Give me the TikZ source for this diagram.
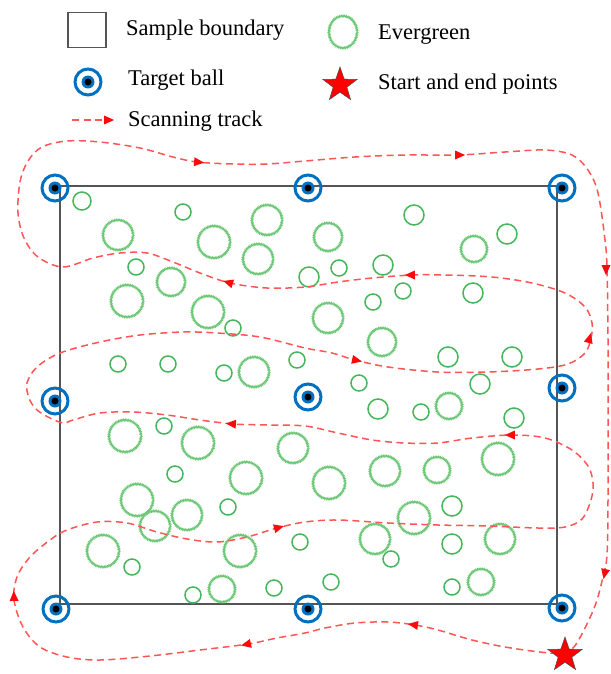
\documentclass[tikz,border=0pt]{standalone}
\usepackage{fontspec}
\setmainfont{Liberation Serif}
\usetikzlibrary{shapes.geometric,decorations.pathmorphing}
\definecolor{ballblue}{RGB}{0,112,192}
\definecolor{boundgray}{RGB}{85,85,85}
\definecolor{evsolid}{RGB}{70,182,92}
\definecolor{evfuzzy}{RGB}{110,200,120}
\definecolor{trackred}{RGB}{255,85,85}
\definecolor{tipred}{RGB}{250,10,10}
\begin{document}
\begin{tikzpicture}[x=1pt,y=-1pt,
  ball/.style={circle, draw=ballblue, line width=3pt, minimum size=26pt, inner sep=0pt,
    path picture={\fill[ballblue] (path picture bounding box.center) circle (6.5pt);
                  \fill[black] (path picture bounding box.center) circle (3.5pt);}},
  evs/.style={draw=evsolid, line width=1.5pt},
  evf/.style={draw=evfuzzy, line width=1.1pt, decorate,
    decoration={zigzag, segment length=1.6pt, amplitude=0.7pt}},
  track/.style={draw=trackred, line width=1.5pt, dash pattern=on 7pt off 4.5pt},
  tip/.style={isosceles triangle, isosceles triangle apex angle=60,
    isosceles triangle stretches, fill=tipred, inner sep=0pt,
    minimum height=10pt, minimum width=9pt},
  legtext/.style={anchor=west, inner sep=0pt, font=\fontsize{22.5}{26}\selectfont},
  startstar/.style={star, star points=5, star point ratio=2.5, fill=red, draw=black!70,
    line width=0.5pt, minimum size=36pt, inner sep=0pt}
]
\useasboundingbox (0,0) rectangle (610,674);

% ---------------- legend ----------------
\node[draw=boundgray, line width=1.6pt, minimum width=38pt, minimum height=35pt, inner sep=0pt] (legbox) at (87,30) {};
\node[legtext] (legboxt) at (126,30) {Sample boundary};
\draw[evf] (343,32) ellipse [x radius=14, y radius=16];
\node[legtext] (legevt) at (378,35) {Evergreen};
\node[ball] (legball) at (88,82) {};
\node[legtext] (legballt) at (128,80) {Target ball};
\node[startstar] (legstar) at (340,85) {};
\node[legtext] (legstart) at (378,84) {Start and end points};
\coordinate (legta) at (72,120);
\coordinate (legtb) at (104,120);
\draw[track] (legta) -- (legtb);
\node[tip] (legtip) at (107,120) {};
\node[legtext] (legtrack) at (128,121) {Scanning track};

% ---------------- boundary ----------------
\draw[boundgray, line width=1.6pt] (60,186) rectangle (557,604);

% ---------------- evergreens ----------------
\foreach \x/\y/\r in {82/201/9, 183/212/8, 136/267/8, 233/328/8, 309/277/10,
  414/215/10, 339/268/8, 383/265/10, 507/234/10, 403/291/8, 373/302/8, 473/293/10,
  118/364/8, 168/364/8, 224/373/8, 297/360/8, 448/357/10, 512/357/10, 359/383/8,
  480/384/10, 378/409/10, 421/412/8, 514/418/10, 164/426/8, 175/474/8, 228/507/8,
  300/542/8, 132/567/8, 193/595/8, 274/588/8, 452/506/10, 391/559/8, 452/544/10,
  331/582/8, 452/587/8}
  \draw[evs] (\x,\y) circle [radius=\r];
\foreach \x/\y/\r in {118/235/15, 214/242/16, 267/220/15, 258/259/15, 171/282/14,
  127/301/16, 208/312/16, 328/237/14, 474/249/13, 328/318/15, 382/342/14, 254/372/15,
  449/406/13, 125/436/16, 198/443/16, 293/448/15, 246/478/16, 498/459/16, 385/471/15,
  437/470/13, 329/483/16, 137/500/16, 187/515/15, 155/526/15, 103/551/16, 240/551/16,
  222/589/13, 414/518/16, 375/539/15, 500/539/15, 481/582/13}
  \draw[evf] (\x,\y) circle [radius=\r];

% ---------------- scanning track ----------------
\draw[track] plot[smooth cycle, tension=0.55] coordinates {
  (63,267) (38,257) (24,238) (18,213) (20,182) (28,161) (42,147) (67,141) (100,142)
  (140,148) (173,157) (197,162) (233,164) (267,164) (305,161) (355,157) (405,155)
  (458,155) (505,152) (545,150) (572,155) (588,170) (598,193) (605,240) (607,268)
  (608,340) (608,420) (608,500) (607,555) (603,577) (596,603) (585,628) (573,648)
  (560,653) (540,652) (505,647) (472,640) (438,630) (415,625) (388,622) (355,623)
  (325,628) (305,633) (277,638) (248,644) (200,650) (150,656) (100,660) (67,657)
  (40,647) (23,627) (14,600) (17,577) (30,557) (50,540) (67,530) (97,522) (127,523)
  (157,532) (187,539) (217,542) (247,537) (277,528) (305,522) (338,520) (388,523)
  (438,525) (488,526) (538,528) (565,527) (582,519) (591,500) (593,483) (588,466)
  (572,450) (545,438) (512,435) (472,438) (438,443) (405,443) (372,440) (338,433)
  (305,426) (267,425) (233,424) (200,420) (167,415) (133,412) (100,413) (73,420)
  (63,423) (48,417) (36,409) (29,398) (27,383) (37,367) (60,353) (100,342) (140,335)
  (183,332) (217,333) (260,337) (305,348) (332,353) (355,360) (388,367) (438,372)
  (488,372) (538,369) (568,364) (585,353) (591,338) (592,323) (585,307) (565,293)
  (532,283) (492,277) (445,275) (412,275) (372,278) (338,282) (305,287) (267,288)
  (230,283) (200,273) (173,262) (147,253) (120,253) (93,258)};

% arrow heads on the track
\foreach \x/\y/\a in {197/162/-5, 458/155/0, 606/268/-90, 605/572/-102, 415/625/172,
  248/644/192, 14/598/92, 277/528/15, 512/435/180, 233/424/176, 355/360/-12,
  589/340/75, 412/275/180, 230/283/163}
  \node[tip, rotate=\a] at (\x,\y) {};

% ---------------- target balls ----------------
\node[ball] (b1) at (55,188) {};
\node[ball] (b2) at (308,188) {};
\node[ball] (b3) at (562,188) {};
\node[ball] (b4) at (55,401) {};
\node[ball] (b5) at (308,397) {};
\node[ball] (b6) at (562,388) {};
\node[ball] (b7) at (56,609) {};
\node[ball] (b8) at (308,609) {};
\node[ball] (b9) at (562,608) {};

% ---------------- start / end star ----------------
\node[startstar] (start) at (565,655) {};
\end{tikzpicture}
\end{document}
